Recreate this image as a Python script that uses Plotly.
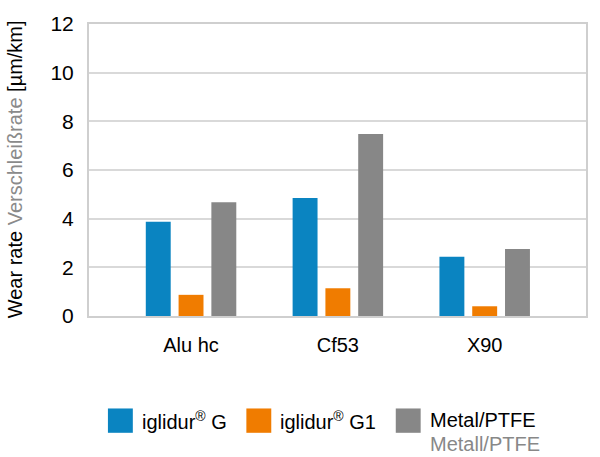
import plotly.graph_objects as go

categories = ["Alu hc", "Cf53", "X90"]
series_names = ["iglidur<sup>®</sup> G", "iglidur<sup>®</sup> G1", "Metal/PTFE"]
series_sub = ["", "", "Metall/PTFE"]
iglidur_g = [3.87, 4.85, 2.44]
iglidur_g1 = [0.87, 1.14, 0.40]
metal_ptfe = [4.67, 7.48, 2.75]
colors = ["#0a84c1", "#f07c00", "#878787"]
y_ticks = [0, 2, 4, 6, 8, 10, 12]

FONT = "Liberation Sans, Arial, Helvetica, sans-serif"

fig = go.Figure()
for name, vals, col in zip(series_names, [iglidur_g, iglidur_g1, metal_ptfe], colors):
    fig.add_trace(go.Bar(x=categories, y=vals, name=name, marker_color=col,
                         marker_line_width=0, showlegend=False))

W, H = 600, 457
ml, mr, mt, mb = 89, 12, 16, 141
pw, ph = W - ml - mr, H - mt - mb

def px2paper(x, y):
    return (x - ml) / pw, (H - mb - y) / ph

shapes = []
annotations = []
legend_x = [108, 247, 397]
for i, (lx, col) in enumerate(zip(legend_x, colors)):
    x0, y0 = px2paper(lx, 411)
    x1, y1 = px2paper(lx + 25, 436)
    shapes.append(dict(type="rect", xref="paper", yref="paper", x0=x0, x1=x1, y0=y1, y1=y0,
                       fillcolor=col, line=dict(width=0)))
    tx, ty = px2paper(lx + 32, 423)
    annotations.append(dict(xref="paper", yref="paper", x=tx, y=ty, xanchor="left", yanchor="middle",
                            text=series_names[i], showarrow=False,
                            font=dict(family=FONT, size=20, color="#000000")))
    if series_sub[i]:
        tx2, ty2 = px2paper(lx + 32, 447)
        annotations.append(dict(xref="paper", yref="paper", x=tx2, y=ty2, xanchor="left", yanchor="middle",
                                text=series_sub[i], showarrow=False,
                                font=dict(family=FONT, size=20, color="#888888")))

tx, ty = px2paper(15, 165)
annotations.append(dict(xref="paper", yref="paper", x=tx, y=ty, xanchor="center", yanchor="middle",
                        textangle=-90, showarrow=False,
                        text="Wear rate <span style='color:#8a8a8a'>Verschleißrate</span> [µm/km]",
                        font=dict(family=FONT, size=20, color="#000000")))

fig.update_layout(
    width=W, height=H,
    margin=dict(l=ml, r=mr, t=mt, b=mb),
    paper_bgcolor="white", plot_bgcolor="white",
    barmode="group", bargap=0.33, bargroupgap=0.24,
    font=dict(family=FONT, size=20, color="#000000"),
    shapes=shapes, annotations=annotations,
    xaxis=dict(range=[-0.695, 2.69], showline=True, mirror=True, linecolor="#cfcfcf", linewidth=2,
               showgrid=False, ticks="", ticklabelstandoff=10,
               tickfont=dict(family=FONT, size=20, color="#000000")),
    yaxis=dict(range=[0, 12], tickvals=y_ticks, showline=True, mirror=True, linecolor="#cfcfcf",
               linewidth=2, showgrid=True, gridcolor="#d9d9d9", gridwidth=1.5, ticks="",
               ticklabelstandoff=9, zeroline=False,
               tickfont=dict(family=FONT, size=21, color="#000000")),
)

fig.write_html("out.html")
